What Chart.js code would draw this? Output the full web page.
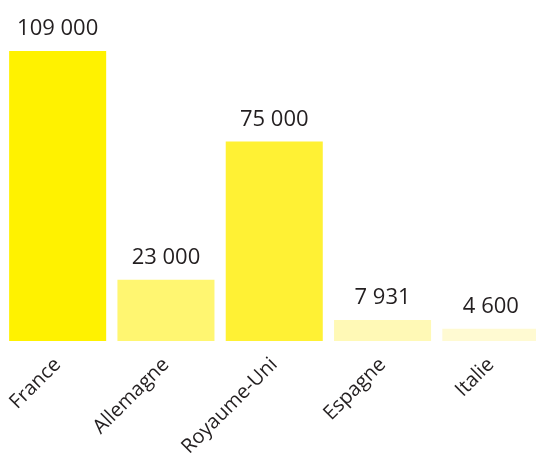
<!DOCTYPE html>
<html>
<head>
<meta charset="utf-8">
<script src="https://cdn.jsdelivr.net/npm/chart.js@4/dist/chart.umd.min.js"></script>
<style>
  html, body { margin: 0; padding: 0; background: #ffffff; overflow: hidden; }
  #wrap { position: relative; width: 549px; height: 465px; }
</style>
</head>
<body>
<div id="wrap"><canvas id="c"></canvas></div>
<script>
const categories = ["France", "Allemagne", "Royaume-Uni", "Espagne", "Italie"];
const values = [109000, 23000, 75000, 7931, 4600];
const valueLabels = ["109 000", "23 000", "75 000", "7 931", "4 600"];
const barColors = ["#FFF200", "#FFF671", "#FFF134", "#FFF9B6", "#FFFAD2"];

const valueLabelPlugin = {
  id: 'valueLabels',
  afterDatasetsDraw(chart) {
    const ctx = chart.ctx;
    const meta = chart.getDatasetMeta(0);
    ctx.save();
    ctx.font = '22px "Open Sans"';
    ctx.fillStyle = '#231f20';
    ctx.textAlign = 'center';
    ctx.textBaseline = 'alphabetic';
    meta.data.forEach((bar, i) => {
      ctx.fillText(valueLabels[i], bar.x, bar.y - 16);
    });
    ctx.restore();
  }
};

new Chart(document.getElementById('c'), {
  type: 'bar',
  data: {
    labels: categories,
    datasets: [{
      data: values,
      backgroundColor: barColors,
      borderWidth: 0,
      categoryPercentage: 1,
      barPercentage: 0.896
    }]
  },
  options: {
    responsive: true,
    maintainAspectRatio: false,
    animation: false,
    devicePixelRatio: 1,
    layout: { padding: { left: 3.5, right: 4, top: 0, bottom: 0 } },
    plugins: { legend: { display: false }, tooltip: { enabled: false } },
    scales: {
      y: { display: false, min: 0, max: 128200 },
      x: {
        grid: { display: false },
        border: { display: false },
        ticks: {
          color: '#231f20',
          font: { family: '"Open Sans"', size: 20 },
          minRotation: 45,
          maxRotation: 45,
          padding: 4,
          autoSkip: false
        },
        afterFit(s) { s.height = 124; s.paddingLeft = 0; s.paddingRight = 0; }
      }
    }
  },
  plugins: [valueLabelPlugin]
});
</script>
</body>
</html>
